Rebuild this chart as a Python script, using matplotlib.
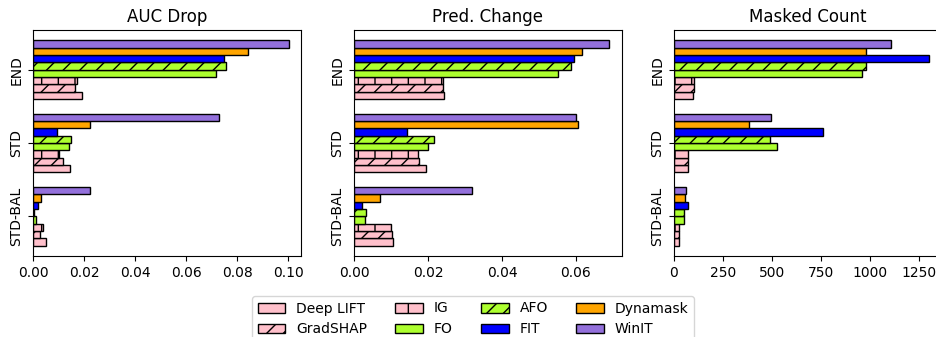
import matplotlib
import matplotlib.pyplot as plt
import numpy as np
from matplotlib.patches import Patch

matplotlib.use("Agg")

# datos
groups = ["END", "STD", "STD-BAL"]
methods = ["Deep LIFT", "GradSHAP", "IG", "FO", "AFO", "FIT", "Dynamask", "WinIT"]
colors = ["pink", "pink", "pink", "greenyellow", "greenyellow", "blue", "orange", "mediumpurple"]
hatches = ["", "//", "|", "", "//", "", "", ""]

# valores por grupo (END, STD, STD-BAL) para cada metodo
auc_drop = {
    "Deep LIFT": [0.0193, 0.0144, 0.0048],
    "GradSHAP": [0.0164, 0.0117, 0.0026],
    "IG": [0.0170, 0.0100, 0.0037],
    "FO": [0.0717, 0.0140, 0.0012],
    "AFO": [0.0755, 0.0147, 0.0003],
    "FIT": [0.0747, 0.0094, 0.0017],
    "Dynamask": [0.0843, 0.0224, 0.0031],
    "WinIT": [0.1002, 0.0729, 0.0224],
}
pred_change = {
    "Deep LIFT": [0.0242, 0.0194, 0.0106],
    "GradSHAP": [0.0241, 0.0175, 0.0104],
    "IG": [0.0240, 0.0173, 0.0101],
    "FO": [0.0551, 0.0201, 0.0030],
    "AFO": [0.0586, 0.0215, 0.0032],
    "FIT": [0.0594, 0.0143, 0.0021],
    "Dynamask": [0.0617, 0.0605, 0.0071],
    "WinIT": [0.0690, 0.0599, 0.0318],
}
masked_count = {
    "Deep LIFT": [95, 72, 27],
    "GradSHAP": [100, 70, 25],
    "IG": [100, 70, 25],
    "FO": [960, 523, 51],
    "AFO": [976, 488, 49],
    "FIT": [1300, 759, 73],
    "Dynamask": [976, 381, 56],
    "WinIT": [1106, 495, 61],
}

titles = ["AUC Drop", "Pred. Change", "Masked Count"]
panels = [auc_drop, pred_change, masked_count]

fig = plt.figure(figsize=(9.37, 3.37), dpi=100)
W, H = 937, 337
lefts = [33.3, 354, 674]
width = 268
bottom, top = 256, 30

y = np.arange(len(groups))
h = 0.1

for k, (title, data) in enumerate(zip(titles, panels)):
    ax = fig.add_axes([lefts[k] / W, 1 - bottom / H, width / W, (bottom - top) / H])
    for i, m in enumerate(methods):
        ax.barh(
            y - (i - 3.5) * h,
            data[m],
            height=h,
            color=colors[i],
            hatch=hatches[i],
            edgecolor="black",
            linewidth=1,
        )
    ax.set_yticks(y)
    ax.set_yticklabels(groups, rotation=90, va="center")
    ax.invert_yaxis()
    ax.set_title(title)

handles = [
    Patch(facecolor=colors[i], hatch=hatches[i], edgecolor="black", label=m)
    for i, m in enumerate(methods)
]
fig.legend(
    handles=handles,
    loc="upper center",
    bbox_to_anchor=(473 / W, 1 - 289 / H),
    ncol=4,
    frameon=True,
)

fig.savefig("out.png", dpi=100)
